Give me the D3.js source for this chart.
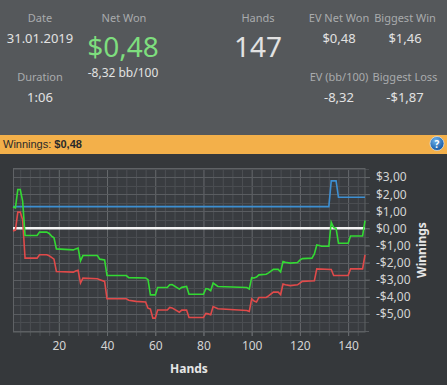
<!DOCTYPE html>
<html lang="en">
<head>
    <meta charset="UTF-8">
    <title>Session</title>
    <script src="https://cdn.jsdelivr.net/npm/d3@7/dist/d3.min.js"></script>
    <style>
        html, body { margin: 0; padding: 0; background: #35383b; }
        svg { display: block; }
        text { font-family: "Noto Sans", "Open Sans", sans-serif; }
    </style>
</head>
<body>
<svg id="chart" width="447" height="385"></svg>
<script>
    // header stats
    var statLabels = ["Date", "Duration", "Net Won", "Hands", "EV Net Won", "Biggest Win", "EV (bb/100)", "Biggest Loss"];
    var statValues = ["31.01.2019", "1:06", "$0,48", "147", "$0,48", "$1,46", "-8,32", "-$1,87"];
    var netBb100 = "-8,32 bb/100";
    var barTitle = "Winnings:";
    var barValue = "$0,48";

    // axes
    var xTicks = [20, 40, 60, 80, 100, 120, 140];
    var yTicks = [-5, -4, -3, -2, -1, 0, 1, 2, 3];

    // series: [hand, winnings $]
    var netWon = [[1, 1.25], [2, 1.2], [3, 2.27], [4, 2.27], [5, 1.6], [6, -0.42], [11, -0.42], [12, -0.22], [15, -0.22],
        [16, -0.3], [17, -0.45], [18, -0.55], [19, -1.2], [26, -1.26], [27, -1.2], [28, -1.15], [29, -1.9], [30, -1.59],
        [36, -1.59], [37, -1.8], [39, -1.85], [40, -2.76], [48, -2.76], [49, -2.88], [56, -2.9], [57, -3.0], [58, -3.89],
        [60, -3.89], [61, -3.46], [65, -3.46], [66, -3.3], [67, -3.28], [70, -3.55], [71, -3.45], [73, -3.4], [74, -3.85],
        [80, -3.85], [81, -3.52], [82, -3.55], [83, -3.65], [84, -3.2], [86, -3.4], [98, -3.46], [99, -3.55], [100, -2.88],
        [101, -2.9], [102, -2.85], [103, -2.72], [106, -2.68], [107, -2.6], [109, -2.4], [111, -2.4], [112, -2.55],
        [113, -1.94], [114, -1.98], [116, -2.03], [119, -2.0], [120, -1.86], [121, -1.77], [125, -1.74], [126, -1.5],
        [127, -0.97], [128, -1.0], [129, -1.05], [132, -1.05], [133, 0.36], [134, 0.05], [135, 0.0], [136, -0.87],
        [140, -0.87], [141, -0.45], [146, -0.45], [147, 0.45]];
    var nonShowdown = [[1, -0.15], [2, -0.1], [3, 0.95], [4, 0.95], [5, 0.5], [6, -1.74], [11, -1.74], [12, -1.54],
        [15, -1.54], [16, -1.6], [17, -1.7], [18, -1.8], [19, -2.52], [26, -2.56], [27, -2.5], [28, -2.45], [29, -3.2],
        [30, -2.91], [36, -2.95], [37, -3.0], [39, -3.1], [40, -4.12], [48, -4.12], [49, -4.2], [52, -4.27], [56, -4.3],
        [57, -4.67], [58, -4.72], [59, -5.25], [60, -5.25], [61, -4.77], [65, -4.77], [66, -4.62], [67, -4.65], [70, -4.9],
        [71, -4.78], [73, -4.78], [74, -5.21], [80, -5.21], [81, -4.97], [82, -5.0], [83, -5.05], [84, -4.57], [86, -4.7],
        [98, -4.8], [99, -4.86], [100, -4.12], [101, -4.25], [102, -4.3], [103, -4.04], [106, -4.04], [107, -3.95],
        [109, -3.73], [111, -3.73], [112, -3.87], [113, -3.26], [114, -3.3], [116, -3.35], [119, -3.3], [120, -3.2],
        [121, -3.1], [126, -3.06], [127, -2.37], [133, -2.4], [134, -2.76], [140, -2.76], [141, -2.37], [146, -2.37],
        [147, -1.55]];
    var showdown = [[1, 1.27], [132, 1.27], [133, 2.78], [135, 2.78], [136, 1.82], [147, 1.82]];

    var svg = d3.select("#chart");

    //header
    svg.append("rect").attr("x", 0).attr("y", 0).attr("width", 447).attr("height", 135).attr("fill", "#55585b");
    var labelPos = [[40, 22], [40, 81], [124, 22], [258, 22], [339, 22], [405, 22], [339, 81], [405, 81]];
    var valuePos = [[40, 43], [40, 102], [123, 57], [258, 57], [339, 43], [405, 43], [339, 102], [405, 102]];
    for (var i = 0; i < statLabels.length; i++) {
        svg.append("text").attr("x", labelPos[i][0]).attr("y", labelPos[i][1])
            .attr("text-anchor", "middle").attr("font-size", 11).attr("fill", "#a9abad")
            .text(statLabels[i]);
        var big = (i === 2 || i === 3);
        svg.append("text").attr("x", valuePos[i][0]).attr("y", valuePos[i][1])
            .attr("text-anchor", "middle").attr("font-size", big ? 28 : 13)
            .attr("fill", i === 2 ? "#7ede7e" : "#e2e2e2")
            .text(statValues[i]);
    }
    svg.append("text").attr("x", 123).attr("y", 77).attr("text-anchor", "middle")
        .attr("font-size", 12).attr("fill", "#e2e2e2").text(netBb100);

    //orange bar
    svg.append("rect").attr("x", 0).attr("y", 135).attr("width", 447).attr("height", 19).attr("fill", "#f3b04a");
    var bar = svg.append("text").attr("x", 3).attr("y", 148).attr("font-size", 11).attr("fill", "#2a2a2a")
        .style("font-family", "'Liberation Sans', Arial, sans-serif");
    bar.append("tspan").text(barTitle + " ");
    bar.append("tspan").attr("font-weight", "bold").text(barValue);
    var grad = svg.append("defs").append("radialGradient").attr("id", "help").attr("cx", "40%").attr("cy", "30%").attr("r", "70%");
    grad.append("stop").attr("offset", "0%").attr("stop-color", "#6fb4ee");
    grad.append("stop").attr("offset", "100%").attr("stop-color", "#1456a0");
    svg.append("circle").attr("cx", 437).attr("cy", 143.5).attr("r", 7).attr("fill", "url(#help)")
        .attr("stroke", "#dfe9f3").attr("stroke-width", 0.7);
    svg.append("text").attr("x", 437).attr("y", 147.5).attr("text-anchor", "middle").attr("font-size", 10)
        .attr("font-weight", "bold").attr("fill", "#ffffff").text("?");

    //plot
    var x = d3.scaleLinear().domain([1, 147]).range([13, 365]);
    var y = d3.scaleLinear().domain([-6.06, 3.53]).range([332, 168]);

    svg.append("rect").attr("x", 13).attr("y", 168).attr("width", 352).attr("height", 164).attr("fill", "#393c40");

    var xGrid = d3.range(4, 148, 4);
    var yGrid = d3.range(-6, 3.6, 0.5);
    svg.append("g").selectAll("line").data(xGrid).enter().append("line")
        .attr("x1", function (d) { return x(d) + 0.5; }).attr("x2", function (d) { return x(d) + 0.5; })
        .attr("y1", 168).attr("y2", 336)
        .attr("stroke", function (d) { return d % 20 === 0 ? "#66696c" : "#4c4f53"; });
    svg.append("g").selectAll("line").data(yGrid).enter().append("line")
        .attr("x1", 13).attr("x2", 369)
        .attr("y1", function (d) { return Math.round(y(d)) + 0.5; }).attr("y2", function (d) { return Math.round(y(d)) + 0.5; })
        .attr("stroke", function (d) { return d % 1 === 0 ? "#5a5d61" : "#4a4d51"; });
    svg.append("rect").attr("x", 13.5).attr("y", 168.5).attr("width", 351.5).attr("height", 163.5)
        .attr("fill", "none").attr("stroke", "#5f6265");

    //axes
    var yAxis = d3.axisRight(y).tickValues(yTicks).tickSize(5).tickPadding(6)
        .tickFormat(function (d) { return (d < 0 ? "-$" : "$") + Math.abs(d).toFixed(2).replace(".", ","); });
    var gy = svg.append("g").attr("transform", "translate(365,0)").call(yAxis);
    var xAxis = d3.axisBottom(x).tickValues(xTicks).tickSize(4).tickPadding(5);
    var gx = svg.append("g").attr("transform", "translate(0,332)").call(xAxis);
    [gx, gy].forEach(function (g) {
        g.select(".domain").remove();
        g.selectAll("line").attr("stroke", "#66696c");
        g.selectAll("text").attr("fill", "#d4d4d4").attr("font-size", 12)
            .style("font-family", "'Noto Sans', sans-serif");
    });

    svg.append("text").attr("x", 189).attr("y", 373).attr("text-anchor", "middle").attr("font-size", 12)
        .attr("font-weight", "bold").attr("fill", "#e6e6e6").text("Hands");
    svg.append("text").attr("transform", "translate(426,250) rotate(-90)").attr("text-anchor", "middle")
        .attr("font-size", 12).attr("font-weight", "bold").attr("fill", "#e6e6e6").text("Winnings");

    //lines
    var line = d3.line().x(function (d) { return x(d[0]); }).y(function (d) { return y(d[1]); });
    svg.append("line").attr("x1", x(1)).attr("x2", x(147)).attr("y1", y(0)).attr("y2", y(0))
        .attr("stroke", "#f4f4f4").attr("stroke-width", 2.5);
    svg.append("path").datum(showdown).attr("d", line).attr("fill", "none").attr("stroke", "#3d8fd2").attr("stroke-width", 1.6);
    svg.append("path").datum(nonShowdown).attr("d", line).attr("fill", "none").attr("stroke", "#e04a4a").attr("stroke-width", 1.6);
    svg.append("path").datum(netWon).attr("d", line).attr("fill", "none").attr("stroke", "#33d933").attr("stroke-width", 1.6);
</script>
</body>
</html>
